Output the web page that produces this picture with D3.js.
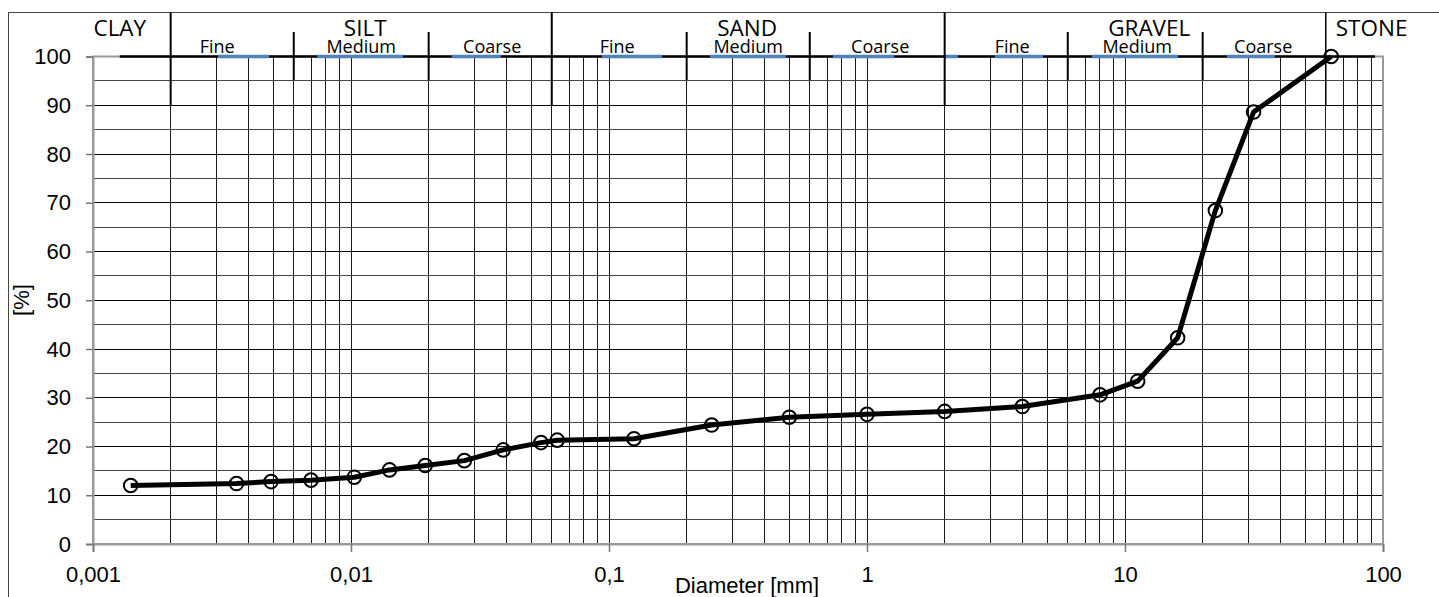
<!DOCTYPE html>
<html>
<head>
<meta charset="utf-8">
<script src="https://cdn.jsdelivr.net/npm/d3@7"></script>
<style>
  html, body { margin: 0; padding: 0; background: #fff; }
  svg { display: block; }
</style>
</head>
<body>
<svg id="chart" width="1439" height="597"></svg>
<script>
// ---------- data ----------
const diameters = [0.0014, 0.0036, 0.0049, 0.007, 0.0103, 0.0141, 0.0194, 0.0275, 0.0389, 0.0545, 0.063,
                   0.125, 0.25, 0.5, 1, 2, 4, 8, 11.2, 16, 22.4, 31.5, 63];
const passing   = [12.0, 12.4, 12.8, 13.1, 13.7, 15.2, 16.1, 17.1, 19.3, 20.8, 21.3,
                   21.6, 24.4, 26.0, 26.6, 27.2, 28.2, 30.6, 33.4, 42.3, 68.4, 88.6, 100];

const xTicks = [0.001, 0.01, 0.1, 1, 10, 100];
const xTickLabels = ["0,001", "0,01", "0,1", "1", "10", "100"];
const yTicks = [0, 10, 20, 30, 40, 50, 60, 70, 80, 90, 100];

const mainClasses = ["CLAY", "SILT", "SAND", "GRAVEL", "STONE"];
const mainBounds = [0.001, 0.002, 0.06, 2, 60, 100];
const subClasses = ["Fine", "Medium", "Coarse"];
const subGroups = [[0.002, 0.006, 0.02, 0.06], [0.06, 0.2, 0.6, 2], [2, 6, 20, 60]];

const xTitle = "Diameter [mm]";
const yTitle = "[%]";

// ---------- drawing ----------
const svg = d3.select("#chart");
const x = d3.scaleLog().domain([0.001, 100]).range([93, 1383]);
const y = d3.scaleLinear().domain([0, 100]).range([544, 56.5]);

// outer chart border (extends beyond view on right/bottom)
svg.append("rect").attr("x", 8.5).attr("y", 12.5).attr("width", 1460).attr("height", 620)
  .attr("fill", "none").attr("stroke", "#444").attr("stroke-width", 1);

// grid: vertical lines 1..9 x decades
const vGrid = [];
for (let e = -3; e <= 1; e++) for (let m = 1; m <= 9; m++) vGrid.push(m * Math.pow(10, e));
vGrid.push(100);
svg.append("g").attr("shape-rendering", "crispEdges")
  .selectAll("line").data(vGrid).join("line")
  .attr("x1", d => x(d)).attr("x2", d => x(d))
  .attr("y1", y(100)).attr("y2", y(0))
  .attr("stroke", "#1a1a1a").attr("stroke-width", 1);

const hGrid = d3.range(0, 101, 5);
svg.append("g").attr("shape-rendering", "crispEdges")
  .selectAll("line").data(hGrid).join("line")
  .attr("x1", x(0.001)).attr("x2", x(100))
  .attr("y1", d => y(d)).attr("y2", d => y(d))
  .attr("stroke", d => d % 10 === 0 ? "#000" : "#444").attr("stroke-width", 1);

// plot frame
svg.append("rect").attr("x", x(0.001)).attr("y", y(100))
  .attr("width", x(100) - x(0.001)).attr("height", y(0) - y(100))
  .attr("fill", "none").attr("stroke", "#999").attr("stroke-width", 2);

// axes
const yAxis = d3.axisLeft(y).tickValues(yTicks).tickSize(7).tickPadding(15).tickFormat(d3.format("d"));
const gy = svg.append("g").attr("transform", `translate(${x(0.001)},0)`).call(yAxis);
const xAxis = d3.axisBottom(x).tickValues(xTicks).tickSize(8).tickPadding(14)
  .tickFormat((d, i) => xTickLabels[i]);
const gx = svg.append("g").attr("transform", `translate(0,${y(0)})`).call(xAxis);
[gx, gy].forEach(g => {
  g.select(".domain").attr("stroke", "#999").attr("stroke-width", 2);
  g.selectAll(".tick line").attr("stroke", "#777").attr("stroke-width", 1.5);
  g.selectAll(".tick text").attr("fill", "#000")
    .style("font-family", "'Liberation Sans', Arial, sans-serif").style("font-size", "22px");
});

// axis titles
svg.append("text").attr("x", 747).attr("y", 593).attr("text-anchor", "middle")
  .style("font-family", "'Liberation Sans', Arial, sans-serif").style("font-size", "22px")
  .text(xTitle);
svg.append("text").attr("transform", "translate(29,300) rotate(-90)").attr("text-anchor", "middle")
  .style("font-family", "'Liberation Sans', Arial, sans-serif").style("font-size", "22px")
  .text(yTitle);

// ---------- header (soil classes) ----------
const hy = y(100);
const header = svg.append("g");
// black base line
header.append("line").attr("x1", x(0.00127)).attr("x2", x(93)).attr("y1", hy).attr("y2", hy)
  .attr("stroke", "#000").attr("stroke-width", 2.5);
// blue segments (in mm)
const blueSegs = [[0.00305, 0.00481], [0.00739, 0.0159], [0.0246, 0.0381],
                  [0.0939, 0.1605], [0.246, 0.485], [0.738, 1.273],
                  [2.0, 2.25], [3.13, 4.81], [7.45, 16.05], [24.85, 38.1]];
header.selectAll("line.blue").data(blueSegs).join("line").attr("class", "blue")
  .attr("x1", d => x(d[0])).attr("x2", d => x(d[1])).attr("y1", hy).attr("y2", hy)
  .attr("stroke", "#4F81BD").attr("stroke-width", 3.5);

// main dividers
header.selectAll("line.main").data(mainBounds.slice(1, -1)).join("line").attr("class", "main")
  .attr("x1", d => x(d)).attr("x2", d => x(d)).attr("y1", 12.5).attr("y2", 106)
  .attr("stroke", "#000").attr("stroke-width", (d, i) => i === 3 ? 1.5 : 2);
// sub dividers
const subDiv = subGroups.flatMap(g => g.slice(1, -1));
header.selectAll("line.sub").data(subDiv).join("line").attr("class", "sub")
  .attr("x1", d => x(d)).attr("x2", d => x(d)).attr("y1", 32).attr("y2", 80)
  .attr("stroke", "#000").attr("stroke-width", 2);

const hFont = "'Open Sans', 'Noto Sans', sans-serif";
const mainNudge = [-12, 4, -1, 14, 0];
mainClasses.forEach((c, i) => {
  const lo = mainBounds[i], hi = mainBounds[i + 1];
  const isLast = i === mainClasses.length - 1;
  const cx = isLast ? x(lo) + 10 : (x(lo) + x(hi)) / 2 + mainNudge[i];
  header.append("text").attr("x", cx).attr("y", 35.5)
    .attr("text-anchor", isLast ? "start" : "middle")
    .style("font-family", hFont).style("font-size", "22.5px").attr("fill", "#000")
    .text(c);
});
const subNudge = [[-15, 0, 2], [-2, 0, 3], [6, 2, -1]];
subGroups.forEach((g, gi) => {
  subClasses.forEach((s, si) => {
    const cx = (x(g[si]) + x(g[si + 1])) / 2 + subNudge[gi][si];
    header.append("text").attr("x", cx).attr("y", 52.5).attr("text-anchor", "middle")
      .style("font-family", hFont).style("font-size", "18px").attr("fill", "#000")
      .text(s);
  });
});

// ---------- data series ----------
const pts = diameters.map((d, i) => [d, passing[i]]);
svg.append("path").datum(pts)
  .attr("d", d3.line().x(d => x(d[0])).y(d => y(d[1])))
  .attr("fill", "none").attr("stroke", "#000").attr("stroke-width", 5)
  .attr("stroke-linejoin", "round");
svg.append("g").selectAll("circle").data(pts).join("circle")
  .attr("cx", d => x(d[0])).attr("cy", d => y(d[1])).attr("r", 6.8)
  .attr("fill", "none").attr("stroke", "#000").attr("stroke-width", 2);
</script>
</body>
</html>
